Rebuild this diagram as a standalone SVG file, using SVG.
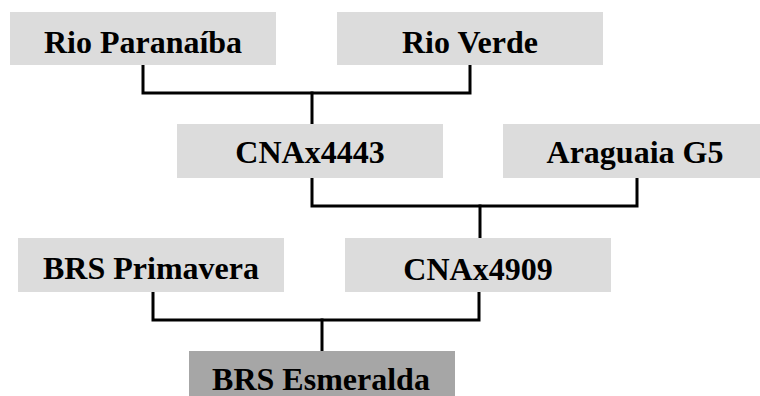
<svg xmlns="http://www.w3.org/2000/svg" width="760" height="396" viewBox="0 0 760 396">
<style>
.box{fill:#dcdcdc}
.dark{fill:#a6a6a6}
.lbl{font-family:"Liberation Serif","Times New Roman",serif;font-weight:bold;font-size:32px;fill:#000;text-anchor:middle}
.conn{fill:none;stroke:#000;stroke-width:3;stroke-linejoin:miter;stroke-linecap:square}
</style>
<rect width="760" height="396" fill="#fff"/>
<g id="connectors">
<path class="conn" d="M143,66 V93 H470 V66"/>
<path class="conn" d="M312,93 V123"/>
<path class="conn" d="M312,179 V206 H637 V179"/>
<path class="conn" d="M480,206 V237"/>
<path class="conn" d="M153,293 V320 H479 V293"/>
<path class="conn" d="M322,320 V350"/>
</g>
<g id="rio-paranaiba"><rect class="box" x="10" y="12" width="266" height="53"/><text class="lbl" x="143" y="53">Rio Paranaíba</text></g>
<g id="rio-verde"><rect class="box" x="337" y="12" width="266" height="53"/><text class="lbl" x="470" y="53">Rio Verde</text></g>
<g id="cnax4443"><rect class="box" x="177" y="124" width="266" height="54"/><text class="lbl" x="310" y="163">CNAx4443</text></g>
<g id="araguaia-g5"><rect class="box" x="503" y="124" width="266" height="54"/><text class="lbl" x="635" y="163">Araguaia G5</text></g>
<g id="brs-primavera"><rect class="box" x="18" y="238" width="266" height="54"/><text class="lbl" x="151" y="279">BRS Primavera</text></g>
<g id="cnax4909"><rect class="box" x="345" y="238" width="266" height="54"/><text class="lbl" x="478" y="280">CNAx4909</text></g>
<g id="brs-esmeralda"><rect class="dark" x="189" y="351" width="266" height="50"/><text class="lbl" x="321" y="390">BRS Esmeralda</text></g>
</svg>
